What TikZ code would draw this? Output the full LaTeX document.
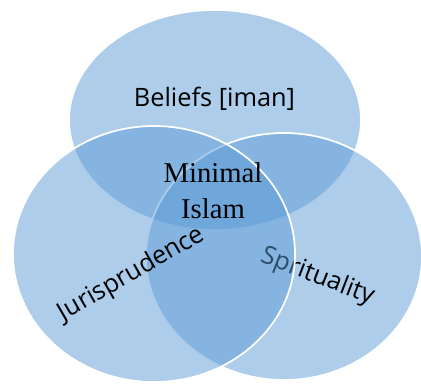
\documentclass[tikz,border=0pt]{standalone}
\usepackage{fontspec}
\setmainfont{Liberation Serif}
\newfontfamily\opensans{Open Sans}
\usepackage{xcolor}
\definecolor{5b9bd5}{HTML}{5B9BD5}
\usepackage{tikz}

\tikzset{
  circ/.style={fill=5b9bd5, fill opacity=0.5, draw=white, line width=1.3pt},
  lbl/.style={font=\opensans\fontsize{19}{23}\selectfont, anchor=base, inner sep=0pt}
}

\begin{document}
\begin{tikzpicture}[x=0.75pt, y=0.75pt]
                        \useasboundingbox (0, 0) rectangle (421, 383);

                        \path[circ] (215, 263) ellipse [x radius=146, y radius=110];
                        \path[circ] (284, 126.5) ellipse [x radius=138, y radius=123.5];
                        \node (spirit) at (315, 100) [lbl, rotate=-21] {Sprituality};
                        \path[circ] (154, 129) ellipse [x radius=141, y radius=128];

                        \node (beliefs) at (214.5, 277) [lbl] {Beliefs [iman]};
                        \node (juris) at (135, 103) [lbl, rotate=30] {Jurisprudence};
                        \node (minimal) at (213, 201) [anchor=base, inner sep=0pt, font=\fontsize{21.5}{27}\selectfont] {Minimal};
                        \node (islam) at (213, 165) [anchor=base, inner sep=0pt, font=\fontsize{21.5}{27}\selectfont] {Islam};
                    \end{tikzpicture}
\end{document}
